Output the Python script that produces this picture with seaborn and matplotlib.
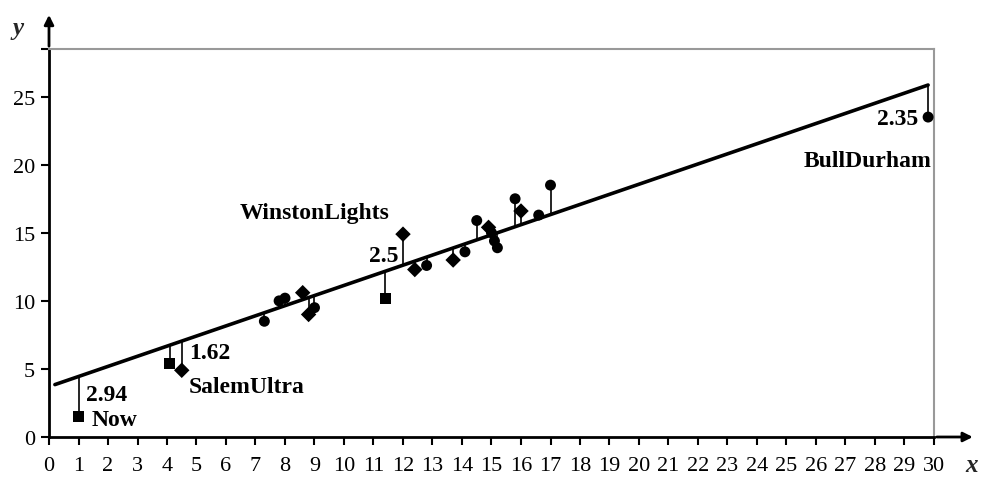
import numpy as np
import pandas as pd
import matplotlib
matplotlib.use("Agg")
import matplotlib.pyplot as plt
import seaborn as sns

# Data (tar x, CO y)
brands = ["Alpine", "Benson&Hedges", "BullDurham", "CamelLights", "Carlton",
          "Chesterfield", "GoldenLights", "Kent", "Kool", "L&M", "LarkLights",
          "Marlboro", "Merit", "MultiFilter", "NewportLights", "Now", "OldGold",
          "PallMallLight", "Raleigh", "SalemUltra", "Tareyton", "True",
          "ViceroyRichLight", "VirginiaSlims", "WinstonLights"]
tar = [14.1, 16.0, 29.8, 8.0, 4.1, 15.0, 8.8, 12.4, 16.6, 14.9, 13.7, 15.1,
       7.8, 11.4, 9.0, 1.0, 17.0, 12.8, 15.8, 4.5, 14.5, 7.3, 8.6, 15.2, 12.0]
co = [13.6, 16.6, 23.5, 10.2, 5.4, 15.0, 9.0, 12.3, 16.3, 15.4, 13.0, 14.4,
      10.0, 10.2, 9.5, 1.5, 18.5, 12.6, 17.5, 4.9, 15.9, 8.5, 10.6, 13.9, 14.9]
marker_kind = ["o", "D", "o", "o", "s", "o", "D", "D", "o", "D", "D", "o",
               "o", "s", "o", "s", "o", "o", "o", "D", "o", "o", "D", "o", "D"]

# fitted line parameters and drawn range
intercept = 3.70
slope = 0.7434
line_range = [0.2, 29.8]

# annotations: (text, x, y, ha)
labels = [("2.94", 1.25, 3.15, "left"), ("Now", 1.45, 1.25, "left"),
          ("1.62", 4.75, 6.2, "left"), ("SalemUltra", 4.75, 3.7, "left"),
          ("WinstonLights", 6.45, 16.5, "left"), ("2.5", 11.86, 13.3, "right"),
          ("2.35", 29.45, 23.4, "right"), ("BullDurham", 29.9, 20.3, "right")]

xticks = list(range(0, 31))
yticks = [0, 5, 10, 15, 20, 25]

df = pd.DataFrame({"brand": brands, "tar": tar, "co": co, "m": marker_kind})
df["fit"] = intercept + slope * df["tar"]

sns.set_theme(style="white")
plt.rcParams["font.family"] = ["Liberation Serif", "DejaVu Serif"]

fig = plt.figure(figsize=(9.87, 4.89), dpi=100)
ax = fig.add_axes([49 / 987, 51 / 489, 885 / 987, 388 / 489])

# residual stems
ax.vlines(df["tar"], df["co"], df["fit"], colors="black", linewidth=1.2, zorder=2)

# regression line
lx = np.array(line_range)
sns.lineplot(x=lx, y=intercept + slope * lx, ax=ax, color="black", linewidth=2.6, zorder=3)

# points
sns.scatterplot(data=df, x="tar", y="co", style="m",
                markers={"o": "o", "D": "D", "s": "s"}, color="black",
                s=62, edgecolor="black", linewidth=0, ax=ax, legend=False, zorder=4)

for t, x, y, ha in labels:
    ax.text(x, y, t, ha=ha, va="center", fontsize=17, fontweight="bold", color="black")

ax.set_xlim(0, 30)
ax.set_ylim(0, 28.5)
ax.set_xticks(xticks)
ax.set_yticks(yticks)
ax.set_yticks([28.5], minor=True)
ax.tick_params(axis="x", which="both", direction="out", length=6, width=1.5,
               labelsize=16, pad=8, colors="black", bottom=True)
ax.tick_params(axis="y", which="both", direction="out", length=6, width=1.5,
               labelsize=16, pad=4, colors="black", left=True)
ax.set_xlabel("")
ax.set_ylabel("")

for side in ["top", "right"]:
    ax.spines[side].set_color("#999999")
    ax.spines[side].set_linewidth(1.5)
for side in ["left", "bottom"]:
    ax.spines[side].set_color("black")
    ax.spines[side].set_linewidth(2)

# axis arrows
ax.annotate("", xy=(1.047, 0), xytext=(1.0, 0), xycoords="axes fraction",
            arrowprops=dict(arrowstyle="-|>", color="black", lw=2, mutation_scale=14),
            annotation_clip=False)
ax.annotate("", xy=(0, 1.095), xytext=(0, 1.0), xycoords="axes fraction",
            arrowprops=dict(arrowstyle="-|>", color="black", lw=2, mutation_scale=14),
            annotation_clip=False)

fig.text(18 / 987, 1 - 28 / 489, "y", fontsize=18, fontstyle="italic", fontweight="bold",
         ha="center", va="center")
fig.text(972 / 987, 1 - 466 / 489, "x", fontsize=18, fontstyle="italic", fontweight="bold",
         ha="center", va="center")

fig.savefig("out.png", dpi=100)
